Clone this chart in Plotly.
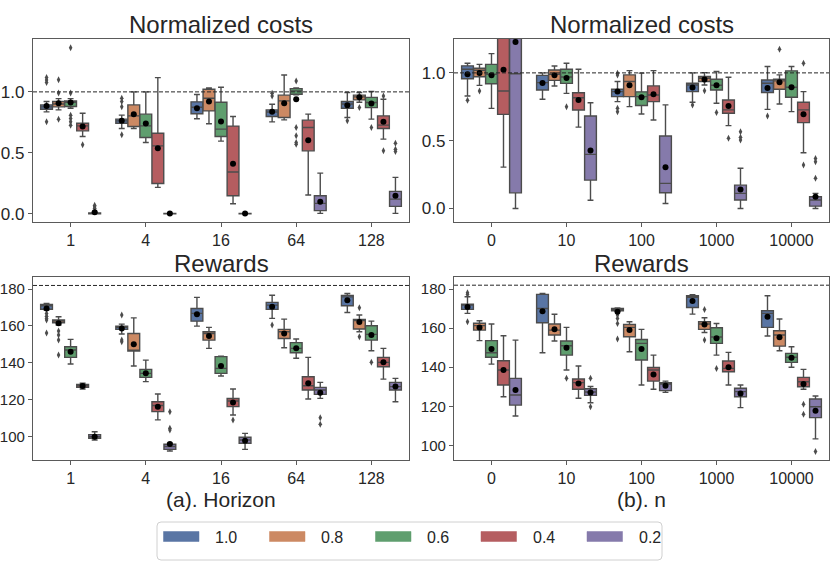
import plotly.graph_objects as go

# ---------------- data ----------------
hue_labels = ["1.0", "0.8", "0.6", "0.4", "0.2"]
horizon_ticks = ["1", "4", "16", "64", "128"]
n_ticks = ["0", "10", "100", "1000", "10000"]

# Panel (a) Normalized costs vs Horizon   [hue][group]
cost_h_q1 = [[.858, .743, .820, .798, .866],
             [.877, .716, .844, .790, .934],
             [.880, .626, .634, .981, .871],
             [.680, .248, .148, .516, .699],
             [.000, .000, .000, .025, .060]]
cost_h_med = [[.877, .762, .874, .835, .900],
              [.900, .803, .948, .926, .959],
              [.915, .721, .694, 1.008, .913],
              [.721, .557, .342, .708, .727],
              [.003, .001, .001, .085, .120]]
cost_h_q3 = [[.893, .776, .918, .852, .921],
             [.921, .893, 1.022, .973, .973],
             [.926, .817, .915, 1.027, .955],
             [.743, .661, .719, .768, .803],
             [.006, .002, .002, .148, .183]]
cost_h_lo = [[.836, .699, .779, .754, .790],
             [.852, .699, .738, .770, .915],
             [.866, .585, .596, .975, .776],
             [.634, .216, .082, .153, .612],
             [.000, .000, .000, .003, .003]]
cost_h_hi = [[.921, .809, .978, .899, .995],
             [.945, 1.000, 1.033, 1.139, .995],
             [.945, 1.000, 1.038, 1.033, 1.003],
             [.825, 1.117, .798, .817, .940],
             [.012, .003, .003, .333, .298]]
cost_h_mean = [[.885, .762, .866, .836, .891],
               [.907, .817, .921, .907, .955],
               [.913, .740, .757, .940, .904],
               [.716, .538, .410, .604, .754],
               [.011, .001, .001, .098, .148]]
cost_h_out = [[[1.117, 1.098, 1.076, .754], [.948, .921, .877, .648], [], [.989, .967], [.762]],
              [[1.10, .99, .776], [], [], [], [.871]],
              [[1.363, .99, .809, .781, .754, .727], [], [], [1.09, .708, .639, .585, .571], [.708]],
              [[.566], [], [], [], [.967, .516]],
              [[.070, .058, .045], [], [], [], [.579, .530, .511]]]

# Panel (b) Normalized costs vs n
cost_n_q1 = [[.957, .874, .825, .862, .855],
             [.972, .945, .825, .936, .879],
             [.920, .923, .759, .874, .820],
             [.694, .726, .788, .702, .633],
             [.115, .209, .116, .062, .017]]
cost_n_med = [[1.027, .928, .862, .911, .924],
              [1.020, .990, .936, .961, .941],
              [.990, .970, .825, .909, .894],
              [.866, .817, .837, .727, .727],
              [.994, .399, .185, .111, .062]]
cost_n_q3 = [[1.052, .982, .879, .924, .948],
             [1.034, 1.021, .985, .973, .953],
             [1.063, 1.027, .860, .953, 1.015],
             [1.400, .854, .904, .800, .783],
             [2.000, .682, .534, .172, .086]]
cost_n_lo = [[.829, .805, .788, .783, .731],
             [.908, .903, .751, .911, .771],
             [.738, .849, .697, .776, .714],
             [.305, .600, .653, .611, .411],
             [.000, .061, .037, .000, .000]]
cost_n_hi = [[1.071, 1.000, .936, 1.000, 1.047],
             [1.063, 1.051, 1.017, 1.002, .985],
             [1.142, 1.071, .998, 1.010, 1.047],
             [1.900, 1.027, 1.017, .968, .862],
             [3.000, .780, .764, .296, .111]]
cost_n_mean = [[.990, .926, .862, .892, .889],
               [1.000, .982, .909, .951, .931],
               [.982, .962, .820, .909, .894],
               [1.024, .800, .842, .756, .695],
               [1.228, .428, .303, .140, .086]]
cost_n_out = [[[.798], [], [.998, .985, .739, .714], [.764], [.682]],
              [[.866], [], [], [.869], [1.175]],
              [[], [.750], [], [.707], []],
              [[], [], [], [.517], [1.071, .320]],
              [[], [], [], [.566, .525, .505], [.369, .345, .222]]]

# Panel (a) Rewards vs Horizon
rew_h_q1 = [[169.1, 158.1, 162.6, 169.0, 171.0],
            [161.7, 146.3, 152.3, 153.2, 158.3],
            [142.9, 132.0, 134.2, 145.4, 152.3],
            [126.6, 113.4, 116.1, 125.2, 137.8],
            [98.9, 92.9, 96.2, 122.8, 125.2]]
rew_h_med = [[171.0, 159.2, 166.8, 171.3, 175.8],
             [162.8, 146.5, 155.9, 156.8, 163.2],
             [146.9, 134.2, 136.9, 147.8, 155.4],
             [127.5, 116.7, 119.2, 127.5, 140.2],
             [99.8, 94.4, 98.0, 125.2, 127.0]]
rew_h_q3 = [[171.7, 159.9, 169.5, 172.8, 176.6],
            [163.2, 155.9, 156.8, 158.1, 163.5],
            [148.7, 136.4, 143.3, 150.9, 160.1],
            [128.2, 118.8, 120.5, 132.4, 142.9],
            [100.9, 95.7, 99.5, 126.6, 129.3]]
rew_h_lo = [[168.6, 155.6, 159.9, 164.1, 167.3],
            [160.5, 138.2, 147.8, 148.1, 156.8],
            [139.3, 129.7, 132.8, 142.4, 146.5],
            [125.7, 108.9, 111.6, 120.3, 131.1],
            [98.0, 92.0, 92.9, 120.6, 118.8]]
rew_h_hi = [[172.2, 161.0, 175.5, 176.7, 177.6],
            [165.0, 164.4, 159.2, 163.7, 165.9],
            [152.7, 141.4, 143.6, 152.9, 162.6],
            [128.8, 123.0, 125.7, 142.9, 147.8],
            [102.5, 96.2, 101.6, 129.3, 131.5]]
rew_h_mean = [[169.5, 158.6, 166.4, 170.4, 174.0],
              [161.4, 150.1, 154.5, 155.9, 162.1],
              [146.0, 134.2, 138.2, 147.8, 155.0],
              [127.3, 116.1, 118.3, 128.8, 140.2],
              [99.8, 95.8, 97.6, 123.7, 127.0]]
rew_h_out = [[[166.8, 165.3, 164.1, 163.2, 156.1], [165.9, 152.3, 151.4], [], [160.5], []],
             [[157.2, 155.0, 152.3, 144.2], [], [], [], [169.9, 154.1]],
             [[], [], [], [], [140.2]],
             [[], [], [108.9], [], []],
             [[], [113.4, 104.3, 103.4], [], [110.1, 106.5], []]]

# Panel (b) Rewards vs n
rew_n_q1 = [[169.6, 162.8, 168.9, 170.6, 160.4],
            [159.0, 156.5, 155.6, 159.4, 150.8],
            [145.1, 146.2, 143.7, 152.2, 142.5],
            [130.9, 128.7, 132.9, 137.7, 130.0],
            [120.6, 125.6, 128.0, 124.9, 114.2]]
rew_n_med = [[171.8, 170.1, 169.8, 175.8, 167.6],
             [161.3, 159.0, 160.4, 162.1, 156.5],
             [147.4, 151.0, 152.2, 155.5, 145.1],
             [138.6, 132.1, 138.6, 139.4, 132.6],
             [125.8, 127.3, 131.4, 127.5, 119.8]]
rew_n_q3 = [[172.3, 177.3, 170.1, 176.6, 168.9],
            [162.5, 162.1, 161.9, 163.3, 158.7],
            [153.6, 153.4, 154.2, 160.2, 147.1],
            [143.3, 134.0, 139.9, 143.2, 134.8],
            [134.3, 129.0, 132.1, 129.2, 123.7]]
rew_n_lo = [[167.6, 147.4, 168.7, 167.2, 156.0],
            [153.6, 153.4, 147.9, 157.8, 148.4],
            [141.6, 138.6, 130.9, 146.2, 140.0],
            [124.9, 124.1, 128.7, 130.9, 128.7],
            [115.0, 121.8, 127.1, 119.3, 103.3]]
rew_n_hi = [[176.1, 177.8, 170.4, 177.2, 176.6],
            [163.8, 167.1, 163.3, 165.3, 164.7],
            [162.1, 160.4, 159.4, 162.4, 150.5],
            [156.1, 140.6, 146.2, 147.6, 138.9],
            [153.9, 130.1, 132.9, 130.9, 125.3]]
rew_n_mean = [[170.9, 168.7, 168.4, 173.9, 165.8],
              [160.4, 159.4, 159.0, 161.9, 155.3],
              [149.3, 150.0, 149.3, 154.8, 144.9],
              [138.6, 131.7, 136.3, 140.0, 131.4],
              [128.3, 127.0, 130.5, 126.6, 117.7]]
rew_n_out = [[[178.1, 177.3, 163.3], [], [166.7, 165.0, 162.4, 154.4], [], []],
             [[], [], [], [169.6, 153.9], []],
             [[], [134.3], [], [139.4], []],
             [[], [], [], [], [121.0, 115.9]],
             [[], [134.3, 119.8], [], [], [96.8]]]

cost_ref = 1.0
reward_ref = 182.0

# ---------------- style ----------------
colors = ["#5975a4", "#cc8963", "#5f9e6e", "#b55d60", "#857aab"]
gray = "#4c4c4c"
text_col = "#262626"
frame_col = "#5a5a5a"
font_fam = "Liberation Sans, Arial, sans-serif"
W, H = 830, 561
offsets = [-0.32, -0.16, 0.0, 0.16, 0.32]
box_w = 0.157

fig = go.Figure()


def add_panel(ax, q1, med, q3, lo, hi, mean, out):
    xa, ya = "x" + ax, "y" + ax
    for h in range(5):
        xs = [g + offsets[h] for g in range(5)]
        fig.add_trace(go.Box(
            x=xs, q1=q1[h], median=med[h], q3=q3[h],
            lowerfence=lo[h], upperfence=hi[h],
            width=box_w, whiskerwidth=0.5, boxpoints=False,
            fillcolor=colors[h], line=dict(color=gray, width=1.4),
            showlegend=False, hoverinfo="skip", xaxis=xa, yaxis=ya))
        ox, oy = [], []
        for g in range(5):
            for v in out[h][g]:
                ox.append(g + offsets[h])
                oy.append(v)
        fig.add_trace(go.Scatter(
            x=ox, y=oy, mode="markers",
            marker=dict(symbol="diamond-tall", size=5, color=gray, line=dict(width=0)),
            showlegend=False, hoverinfo="skip", xaxis=xa, yaxis=ya))
        fig.add_trace(go.Scatter(
            x=xs, y=mean[h], mode="markers",
            marker=dict(symbol="circle", size=6, color="black", line=dict(width=0)),
            showlegend=False, hoverinfo="skip", xaxis=xa, yaxis=ya))


add_panel("", cost_h_q1, cost_h_med, cost_h_q3, cost_h_lo, cost_h_hi, cost_h_mean, cost_h_out)
add_panel("2", cost_n_q1, cost_n_med, cost_n_q3, cost_n_lo, cost_n_hi, cost_n_mean, cost_n_out)
add_panel("3", rew_h_q1, rew_h_med, rew_h_q3, rew_h_lo, rew_h_hi, rew_h_mean, rew_h_out)
add_panel("4", rew_n_q1, rew_n_med, rew_n_q3, rew_n_lo, rew_n_hi, rew_n_mean, rew_n_out)


def px_x(p):
    return p / W


def px_y(p):
    return 1 - p / H


left_dom = [px_x(33), px_x(409)]
right_dom = [px_x(454), px_x(829)]
top_dom = [px_y(222), px_y(39)]
bot_dom = [px_y(460), px_y(277)]


def xaxis(dom, ticks, anchor, size):
    return dict(domain=dom, range=[-0.5, 4.5], tickvals=list(range(5)), ticktext=ticks,
                anchor=anchor, ticks="outside", ticklen=4, tickwidth=1.2, tickcolor=frame_col,
                showline=True, mirror=True, linecolor=frame_col, linewidth=1.3,
                showgrid=False, zeroline=False, automargin=False,
                tickfont=dict(size=size, color=text_col, family=font_fam))


def yaxis(dom, rng, vals, labels, anchor, size):
    return dict(domain=dom, range=rng, tickvals=vals, ticktext=labels,
                anchor=anchor, ticks="outside", ticklen=4, tickwidth=1.2, tickcolor=frame_col,
                showline=True, mirror=True, linecolor=frame_col, linewidth=1.3,
                showgrid=False, zeroline=False, automargin=False,
                tickfont=dict(size=size, color=text_col, family=font_fam))


cost_vals = [0.0, 0.5, 1.0]
cost_labels = ["0.0", "0.5", "1.0"]
rew_vals = [100, 120, 140, 160, 180]
rew_labels = ["100", "120", "140", "160", "180"]

fig.update_layout(
    width=W, height=H, margin=dict(l=0, r=0, t=0, b=0, pad=0, autoexpand=False),
    paper_bgcolor="white", plot_bgcolor="white",
    boxmode="overlay", showlegend=False,
    font=dict(family=font_fam, color=text_col),
    xaxis=xaxis(left_dom, horizon_ticks, "y", 16),
    yaxis=yaxis(top_dom, [-0.068, 1.434], cost_vals, cost_labels, "x", 17),
    xaxis2=xaxis(right_dom, n_ticks, "y2", 16),
    yaxis2=yaxis(top_dom, [-0.1, 1.25], cost_vals, cost_labels, "x2", 17),
    xaxis3=xaxis(left_dom, horizon_ticks, "y3", 16),
    yaxis3=yaxis(bot_dom, [87.1, 186.6], rew_vals, rew_labels, "x3", 15),
    xaxis4=xaxis(right_dom, n_ticks, "y4", 16),
    yaxis4=yaxis(bot_dom, [92.5, 186.2], rew_vals, rew_labels, "x4", 15),
)

# reference dashed lines
for ax, ref in [("", cost_ref), ("2", cost_ref), ("3", reward_ref), ("4", reward_ref)]:
    fig.add_shape(type="line", xref=("x" + ax + " domain"), yref=("y" + ax),
                  x0=0, x1=1, y0=ref, y1=ref, layer="above",
                  line=dict(color=text_col, width=1, dash="4px,2px"))

# titles and axis labels
ann = []
cx_l = (33 + 409) / 2
cx_r = (454 + 829) / 2
for cx in (cx_l, cx_r):
    ann.append(dict(text="Normalized costs", x=px_x(cx), y=px_y(25)))
    ann.append(dict(text="Rewards", x=px_x(cx), y=px_y(263)))
ann.append(dict(text="(a). Horizon", x=px_x(cx_l), y=px_y(499)))
ann.append(dict(text="(b). n", x=px_x(cx_r), y=px_y(499)))
for i, a in enumerate(ann):
    size = 24 if i < 4 else 21
    fig.add_annotation(text=a["text"], x=a["x"], y=a["y"], xref="paper", yref="paper",
                       xanchor="center", yanchor="middle", showarrow=False,
                       font=dict(size=size, color=text_col, family=font_fam))

# legend (frame, patches, labels)
lx0, lx1, ly0, ly1, r = 157, 662, 522, 560, 4
path = (f"M{px_x(lx0 + r)},{px_y(ly0)} L{px_x(lx1 - r)},{px_y(ly0)} "
        f"Q{px_x(lx1)},{px_y(ly0)} {px_x(lx1)},{px_y(ly0 + r)} "
        f"L{px_x(lx1)},{px_y(ly1 - r)} Q{px_x(lx1)},{px_y(ly1)} {px_x(lx1 - r)},{px_y(ly1)} "
        f"L{px_x(lx0 + r)},{px_y(ly1)} Q{px_x(lx0)},{px_y(ly1)} {px_x(lx0)},{px_y(ly1 - r)} "
        f"L{px_x(lx0)},{px_y(ly0 + r)} Q{px_x(lx0)},{px_y(ly0)} {px_x(lx0 + r)},{px_y(ly0)} Z")
fig.add_shape(type="path", path=path, xref="paper", yref="paper",
              line=dict(color="#d0d0d0", width=1), fillcolor="white", layer="above")
patch_x = [163.5, 269.5, 375.5, 481, 587]
for h in range(5):
    x0 = patch_x[h]
    fig.add_shape(type="rect", xref="paper", yref="paper",
                  x0=px_x(x0), x1=px_x(x0 + 35.5), y0=px_y(541.5), y1=px_y(531.5),
                  fillcolor=colors[h], line=dict(color=colors[h], width=0.5), layer="above")
    fig.add_annotation(text=hue_labels[h], x=px_x(x0 + 49.5), y=px_y(537), xref="paper", yref="paper",
                       xanchor="left", yanchor="middle", showarrow=False,
                       font=dict(size=16, color=text_col, family=font_fam))

fig.write_html("out.html", config={"displayModeBar": False},
               post_script="document.body.style.margin='0';document.body.style.overflow='hidden';")
